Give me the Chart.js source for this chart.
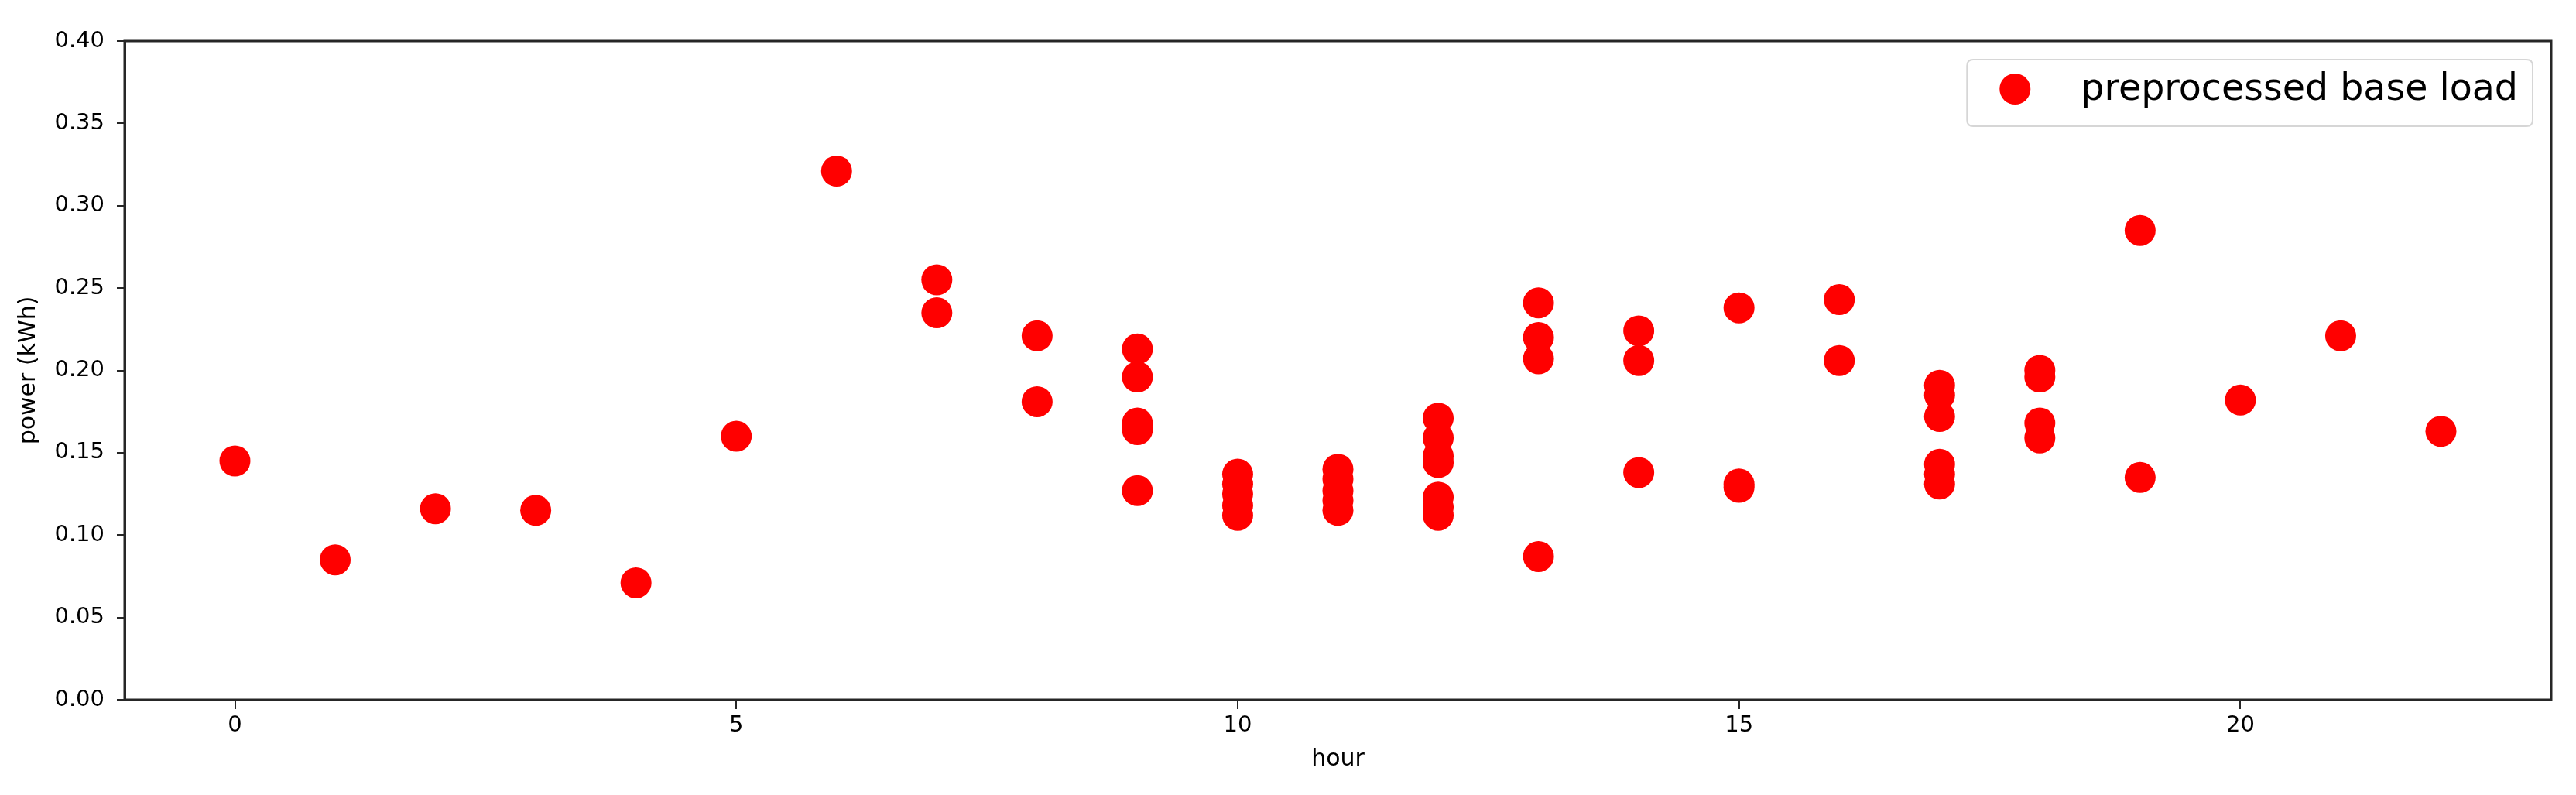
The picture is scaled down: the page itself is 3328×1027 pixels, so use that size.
<!DOCTYPE html>
<html>
<head>
<meta charset="utf-8">
<script src="https://cdn.jsdelivr.net/npm/chart.js@4/dist/chart.umd.min.js"></script>
<style>
  html, body { margin: 0; padding: 0; background: #ffffff; }
  #wrap { width: 3328px; height: 1027px; }
</style>
</head>
<body>
<div id="wrap"><canvas id="c" width="3328" height="1027"></canvas></div>
<script>
// ---- data ----
const seriesLabel = "preprocessed base load";
const hours = [
  0, 1, 2, 3, 4, 5, 6,
  7, 7,
  8, 8,
  9, 9, 9, 9, 9,
  10, 10, 10, 10, 10,
  11, 11, 11, 11, 11,
  12, 12, 12, 12, 12, 12, 12,
  13, 13, 13, 13,
  14, 14, 14,
  15, 15, 15,
  16, 16,
  17, 17, 17, 17, 17, 17,
  18, 18, 18, 18,
  19, 19,
  20, 21, 22
];
const power = [
  0.145, 0.085, 0.116, 0.115, 0.071, 0.160, 0.321,
  0.255, 0.235,
  0.221, 0.181,
  0.213, 0.196, 0.168, 0.164, 0.127,
  0.137, 0.131, 0.125, 0.118, 0.112,
  0.140, 0.134, 0.127, 0.121, 0.115,
  0.171, 0.159, 0.148, 0.144, 0.123, 0.117, 0.112,
  0.241, 0.220, 0.207, 0.087,
  0.224, 0.206, 0.138,
  0.238, 0.131, 0.129,
  0.243, 0.206,
  0.191, 0.185, 0.172, 0.143, 0.137, 0.131,
  0.200, 0.196, 0.168, 0.159,
  0.285, 0.135,
  0.182, 0.221, 0.163
];
const xTicks = [0, 5, 10, 15, 20];
const yTicks = [0.00, 0.05, 0.10, 0.15, 0.20, 0.25, 0.30, 0.35, 0.40];
const xLabel = "hour";
const yLabel = "power (kWh)";

// ---- styling ----
const FONT = "'DejaVu Sans', sans-serif";
const RED = "#ff0000";
const AXIS = "#262626";

const points = hours.map((h, i) => ({ x: h, y: power[i] }));

const framePlugin = {
  id: 'frame',
  afterDraw(chart) {
    const { ctx, chartArea: a } = chart;
    ctx.save();
    ctx.strokeStyle = AXIS;
    ctx.lineWidth = 3;
    ctx.strokeRect(a.left, a.top, a.right - a.left, a.bottom - a.top);
    ctx.restore();
  }
};

const legendPlugin = {
  id: 'boxLegend',
  afterDraw(chart) {
    const { ctx, chartArea: a } = chart;
    const ds = chart.data.datasets[0];
    ctx.save();
    ctx.font = "47.5px " + FONT;
    const tw = ctx.measureText(ds.label).width;
    const mOff = 62, tOff = 147, rPad = 19;
    const w = tOff + tw + rPad;
    const h = 86;
    const x = a.right - 24 - w;
    const y = a.top + 24;
    const r = 8;
    ctx.beginPath();
    ctx.moveTo(x + r, y);
    ctx.lineTo(x + w - r, y);
    ctx.quadraticCurveTo(x + w, y, x + w, y + r);
    ctx.lineTo(x + w, y + h - r);
    ctx.quadraticCurveTo(x + w, y + h, x + w - r, y + h);
    ctx.lineTo(x + r, y + h);
    ctx.quadraticCurveTo(x, y + h, x, y + h - r);
    ctx.lineTo(x, y + r);
    ctx.quadraticCurveTo(x, y, x + r, y);
    ctx.closePath();
    ctx.fillStyle = "rgba(255,255,255,0.8)";
    ctx.fill();
    ctx.strokeStyle = "#d6d6d6";
    ctx.lineWidth = 2;
    ctx.stroke();
    const cy = y + 38;
    ctx.beginPath();
    ctx.arc(x + mOff, cy, 20, 0, Math.PI * 2);
    ctx.fillStyle = ds.backgroundColor;
    ctx.fill();
    ctx.fillStyle = "#000";
    ctx.textBaseline = "middle";
    ctx.textAlign = "left";
    ctx.fillText(ds.label, x + tOff, cy + 2);
    ctx.restore();
  }
};

new Chart(document.getElementById('c'), {
  type: 'scatter',
  data: {
    datasets: [{
      label: seriesLabel,
      data: points,
      backgroundColor: RED,
      borderColor: RED,
      borderWidth: 0,
      pointRadius: 20,
      pointHoverRadius: 20,
      pointStyle: 'circle'
    }]
  },
  options: {
    responsive: false,
    animation: false,
    devicePixelRatio: 1,
    events: [],
    layout: { padding: { left: 0, right: 32, top: 53, bottom: 0 } },
    plugins: {
      legend: { display: false },
      tooltip: { enabled: false },
      title: { display: false }
    },
    scales: {
      x: {
        type: 'linear',
        position: 'bottom',
        min: -1.1,
        max: 23.1,
        afterBuildTicks(scale) { scale.ticks = xTicks.map(v => ({ value: v })); },
        afterFit(scale) { scale.height = 123; },
        border: { display: true, color: AXIS, width: 3 },
        grid: { drawOnChartArea: false, drawTicks: true, tickLength: 12, color: AXIS, tickColor: AXIS, lineWidth: 2 },
        ticks: {
          autoSkip: false,
          maxRotation: 0,
          padding: 4,
          color: "#000",
          font: { family: FONT, size: 29 },
          callback: v => String(v)
        },
        title: {
          display: true,
          text: xLabel,
          color: "#000",
          font: { family: FONT, size: 30 },
          padding: { top: 0, bottom: 28 }
        }
      },
      y: {
        type: 'linear',
        position: 'left',
        min: 0,
        max: 0.4,
        afterBuildTicks(scale) { scale.ticks = yTicks.map(v => ({ value: v })); },
        afterFit(scale) { scale.width = 161; },
        border: { display: true, color: AXIS, width: 3 },
        grid: { drawOnChartArea: false, drawTicks: true, tickLength: 10, color: AXIS, tickColor: AXIS, lineWidth: 2 },
        ticks: {
          autoSkip: false,
          padding: 16,
          color: "#000",
          font: { family: FONT, size: 29 },
          callback: v => Number(v).toFixed(2)
        },
        title: {
          display: true,
          text: yLabel,
          color: "#000",
          font: { family: FONT, size: 30 },
          padding: { top: 19, bottom: 0 }
        }
      }
    }
  },
  plugins: [framePlugin, legendPlugin]
});
</script>
</body>
</html>
